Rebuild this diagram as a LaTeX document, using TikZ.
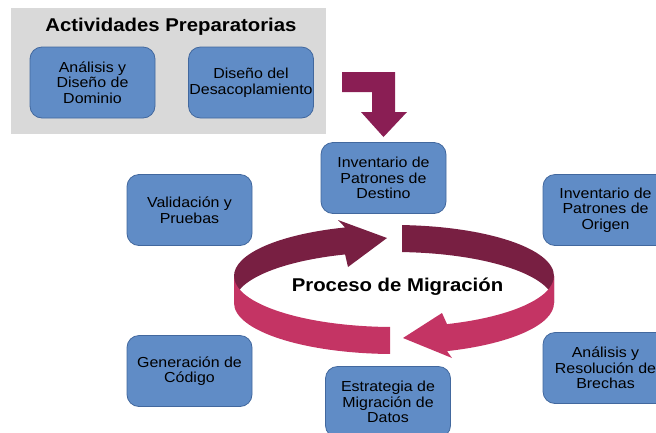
\documentclass[tikz,border=0pt]{standalone}
\usepackage{fontspec}
\setmainfont{Liberation Sans}
\newfontfamily\boxfont[FakeStretch=1.1]{Liberation Sans}
\definecolor{boxfill}{RGB}{96,140,198}
\definecolor{boxborder}{RGB}{66,104,158}
\definecolor{greybg}{RGB}{217,217,217}
\definecolor{ringdark}{RGB}{120,31,66}
\definecolor{ringpink}{RGB}{196,52,100}
\definecolor{arrowc}{RGB}{138,30,84}
\tikzset{
  bluebox/.style={draw=boxborder, line width=0.8pt, fill=boxfill, rounded corners=12pt,
    minimum width=125pt, minimum height=71pt, align=center, inner sep=0pt,
    font=\boxfont\fontsize{14.5}{15.5}\selectfont},
  titletext/.style={font=\boxfont\bfseries\fontsize{18.5}{20}\selectfont, inner sep=0pt},
  ringellipse/.style={x radius=160, y radius=51}
}
\begin{document}
\begin{tikzpicture}[x=1pt,y=1pt]
\useasboundingbox (0,0) rectangle (656,-432);
% preparatory activities
\node[fill=greybg, minimum width=315pt, minimum height=126pt, inner sep=0pt] (prep) at (168.5,-71) {};
\node[titletext] (preptitle) at (171,-27) {Actividades Preparatorias};
\node[bluebox] (dom) at (92.5,-82.5) {Análisis y\\Diseño de\\Dominio};
\node[bluebox] (desac) at (251,-82.5) {Diseño del\\Desacoplamiento};
% bent arrow
\fill[arrowc] (342,-72) -- (395,-72) -- (395,-112) -- (407,-112) -- (383.5,-137)
  -- (361,-112) -- (372,-112) -- (372,-92) -- (342,-92) -- cycle;
% ring: back part (dark)
\fill[ringdark] ([shift={(394,-276)}]107.8:160 and 51)
  arc[start angle=107.8, end angle=180, ringellipse] -- ++(0,-27)
  arc[start angle=180, end angle=107.8, ringellipse]
  -- (348,-267) -- (387,-238) -- (338,-220) -- cycle;
\fill[ringdark] ([shift={(394,-276)}]87.1:160 and 51)
  arc[start angle=87.1, end angle=0, ringellipse] -- ++(0,-27)
  arc[start angle=0, end angle=87.1, ringellipse] -- cycle;
% ring: front part (pink)
\fill[ringpink] ([shift={(394,-276)}]180:160 and 51)
  arc[start angle=180, end angle=268.6, ringellipse] -- ++(0,-27)
  arc[start angle=268.6, end angle=180, ringellipse] -- cycle;
\fill[ringpink] ([shift={(394,-276)}]289.35:160 and 51)
  arc[start angle=289.35, end angle=360, ringellipse] -- ++(0,-27)
  arc[start angle=360, end angle=289.35, ringellipse]
  -- (452,-358) -- (403,-338) -- (442,-313) -- cycle;
\node[titletext] (proc) at (397.5,-287) {Proceso de Migración};
% process boxes
\node[bluebox] (dest) at (383.5,-178) {Inventario de\\Patrones de\\Destino};
\node[bluebox] (valid) at (189.5,-210) {Validación y\\Pruebas};
\node[bluebox] (origen) at (605.5,-210) {Inventario de\\Patrones de\\Origen};
\node[bluebox] (brechas) at (605.5,-368) {Análisis y\\Resolución de\\Brechas};
\node[bluebox] (codigo) at (189.5,-371) {Generación de\\Código};
\node[bluebox] (datos) at (388,-402) {Estrategia de\\Migración de\\Datos};
\end{tikzpicture}
\end{document}
